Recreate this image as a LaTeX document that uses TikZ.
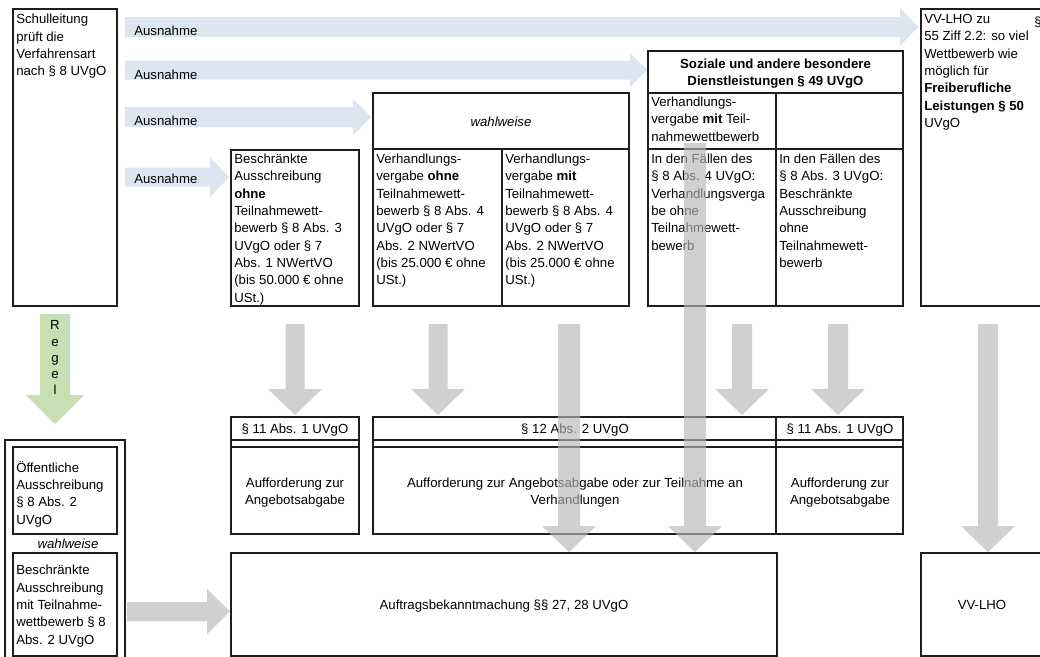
\documentclass[tikz,border=0pt]{standalone}
\usepackage{fontspec}
\setmainfont{Liberation Sans}
\definecolor{ablue}{RGB}{220,230,242}
\definecolor{agreen}{RGB}{198,224,180}
\definecolor{agray}{RGB}{183,183,183}
\definecolor{lineblk}{RGB}{30,30,30}
\tikzset{
  box/.style={draw=lineblk, line width=0.8pt},
  txt/.style={anchor=north west, inner sep=0pt, align=left, font=\fontsize{9.9}{13}\selectfont, execute at begin node=\strut},
  ctxt/.style={inner sep=0pt, align=center, font=\fontsize{9.9}{13}\selectfont, execute at begin node=\strut, execute at end node=\strut},
  blarrow/.style={fill=ablue},
  grarrow/.style={fill=agray, fill opacity=0.65},
  gnarrow/.style={fill=agreen},
}
% down block arrow: style, x, ytop, ytip, shaft half, head half, head length
\newcommand{\myDownArrow}[7]{%
  \fill[#1] ({#2-#5},#3) -- ({#2+#5},#3) -- ({#2+#5},{#4-#7}) -- ({#2+#6},{#4-#7})
    -- (#2,#4) -- ({#2-#6},{#4-#7}) -- ({#2-#5},{#4-#7}) -- cycle;}
% right block arrow: style, xstart, yc, xtip, shaft half, head half, head length
\newcommand{\myRightArrow}[7]{%
  \fill[#1] (#2,{#3-#5}) -- ({#4-#7},{#3-#5}) -- ({#4-#7},{#3-#6}) -- (#4,#3)
    -- ({#4-#7},{#3+#6}) -- ({#4-#7},{#3+#5}) -- (#2,{#3+#5}) -- cycle;}
\begin{document}
\begin{tikzpicture}[x=0.75pt,y=-0.75pt]
\useasboundingbox (0,0) rectangle (1040,657);
\clip (0,0) rectangle (1040,657);
\fill[white] (0,0) rectangle (1040,657);

% blue "Ausnahme" arrows
\myRightArrow{blarrow}{125}{27}{918}{10}{19}{18}
\myRightArrow{blarrow}{125}{70}{647}{9.5}{17}{17}
\myRightArrow{blarrow}{125}{117}{371}{10}{18}{18}
\myRightArrow{blarrow}{125}{177}{229}{9.5}{20}{19}
\node[anchor=west, inner sep=0pt, font=\fontsize{9.9}{13}\selectfont] (aus1) at (134,30.5) {Ausnahme};
\node[anchor=west, inner sep=0pt, font=\fontsize{9.9}{13}\selectfont] (aus2) at (134,74.5) {Ausnahme};
\node[anchor=west, inner sep=0pt, font=\fontsize{9.9}{13}\selectfont] (aus3) at (134,120.5) {Ausnahme};
\node[anchor=west, inner sep=0pt, font=\fontsize{9.9}{13}\selectfont] (aus4) at (134,178.5) {Ausnahme};

% green Regel arrow
\myDownArrow{gnarrow}{55}{314}{424}{15}{29}{29}
\node[anchor=north, inner sep=0pt, align=center, font=\fontsize{9.9}{12.2}\selectfont, execute at begin node=\strut] (regel) at (55,320.5) {R\\e\\g\\e\\l};

% top boxes
\draw[box] (13,9) rectangle (117,306);
\node[txt] (schul) at (16,14) {Schulleitung\\prüft die\\Verfahrensart\\nach § 8 UVgO};

\draw[box] (231,150) rectangle (359,306);
\node[txt] (beschr) at (234,153.5) {Beschränkte\\Ausschreibung\\\textbf{ohne}\\Teilnahmewett-\\bewerb § 8 Abs. 3\\UVgO oder § 7\\Abs. 1 NWertVO\\(bis 50.000 € ohne\\USt.)};

\draw[box] (373,93) rectangle (629,306);
\draw[box] (373,149) -- (629,149);
\draw[box] (502,149) -- (502,306);
\node[ctxt, font=\fontsize{9.9}{13}\selectfont\itshape] (wahl1) at (501,123) {wahlweise};
\node[txt] (vohne) at (376,153.5) {Verhandlungs-\\vergabe \textbf{ohne}\\Teilnahmewett-\\bewerb § 8 Abs. 4\\UVgO oder § 7\\Abs. 2 NWertVO\\(bis 25.000 € ohne\\USt.)};
\node[txt] (vmit) at (505,153.5) {Verhandlungs-\\vergabe \textbf{mit}\\Teilnahmewett-\\bewerb § 8 Abs. 4\\UVgO oder § 7\\Abs. 2 NWertVO\\(bis 25.000 € ohne\\USt.)};

\draw[box] (648,51) rectangle (903,306);
\draw[box] (648,93) -- (903,93);
\draw[box] (648,149) -- (903,149);
\draw[box] (776,93) -- (776,306);
\node[ctxt, font=\fontsize{9.9}{13}\selectfont\bfseries] (soz) at (775.5,74.5) {Soziale und andere besondere\\Dienstleistungen § 49 UVgO};
\node[txt] (sozmit) at (651,96.5) {Verhandlungs-\\vergabe \textbf{mit} Teil-\\nahmewettbewerb};
\node[txt] (soz4) at (651,153.5) {In den Fällen des\\§ 8 Abs. 4 UVgO:\\Verhandlungsverga\\be ohne\\Teilnahmewett-\\bewerb};
\node[txt] (soz3) at (779,153.5) {In den Fällen des\\§ 8 Abs. 3 UVgO:\\Beschränkte\\Ausschreibung\\ohne\\Teilnahmewett-\\bewerb};

\draw[box] (921,9) rectangle (1046,306);
\node[txt] (vvtext) at (924,14) {VV-LHO zu\\55 Ziff 2.2: so viel\\Wettbewerb wie\\möglich für\\\textbf{Freiberufliche}\\\textbf{Leistungen § 50}\\UVgO};
\node[txt] (vvpar) at (1034,14) {§};

% bottom-left block
\draw[box] (5,660) -- (5,440) -- (125,440) -- (125,660);
\draw[box] (13,447) rectangle (117,534);
\node[txt] (oeff) at (16,461) {Öffentliche\\Ausschreibung\\§ 8 Abs. 2\\UVgO};
\node[ctxt, font=\fontsize{9.9}{13}\selectfont\itshape] (wahl2) at (68,545) {wahlweise};
\draw[box] (13,553) rectangle (117,656);
\node[txt] (beschr2) at (16,565) {Beschränkte\\Ausschreibung\\mit Teilnahme-\\wettbewerb § 8\\Abs. 2 UVgO};

% middle row tables
\draw[box] (231,417) rectangle (359,534);
\draw[box] (231,440) -- (359,440);
\draw[box] (231,447) -- (359,447);
\node[ctxt] (p11a) at (295,430.5) {§ 11 Abs. 1 UVgO};
\node[ctxt] (auf1) at (295,494) {Aufforderung zur\\Angebotsabgabe};

\draw[box] (373,417) rectangle (776,534);
\draw[box] (373,440) -- (776,440);
\draw[box] (373,447) -- (776,447);
\node[ctxt] (p12) at (575,430.5) {§ 12 Abs. 2 UVgO};
\node[ctxt] (auf2) at (575,494) {Aufforderung zur Angebotsabgabe oder zur Teilnahme an\\Verhandlungen};

\draw[box] (776,417) rectangle (903,534);
\draw[box] (776,440) -- (903,440);
\draw[box] (776,447) -- (903,447);
\node[ctxt] (p11b) at (840,430.5) {§ 11 Abs. 1 UVgO};
\node[ctxt] (auf3) at (840,494) {Aufforderung zur\\Angebotsabgabe};

% bottom boxes
\draw[box] (231,553) rectangle (777,656);
\node[ctxt] (auftr) at (504,606.5) {Auftragsbekanntmachung §§ 27, 28 UVgO};
\draw[box] (921,553) rectangle (1046,656);
\node[ctxt] (vvlho) at (982,606.5) {VV-LHO};

% gray arrows
\myRightArrow{grarrow}{127}{611.5}{230}{9.5}{22.5}{23}
\myDownArrow{grarrow}{295}{324}{415}{9.5}{27}{26}
\myDownArrow{grarrow}{438}{324}{415}{9.5}{27}{26}
\myDownArrow{grarrow}{569}{324}{552}{11}{27}{26}
\myDownArrow{grarrow}{695}{143}{552}{11}{27}{26}
\myDownArrow{grarrow}{742}{324}{415}{10}{27}{26}
\myDownArrow{grarrow}{838}{324}{415}{10}{27}{26}
\myDownArrow{grarrow}{988}{324}{552}{10}{27}{26}
\end{tikzpicture}
\end{document}
